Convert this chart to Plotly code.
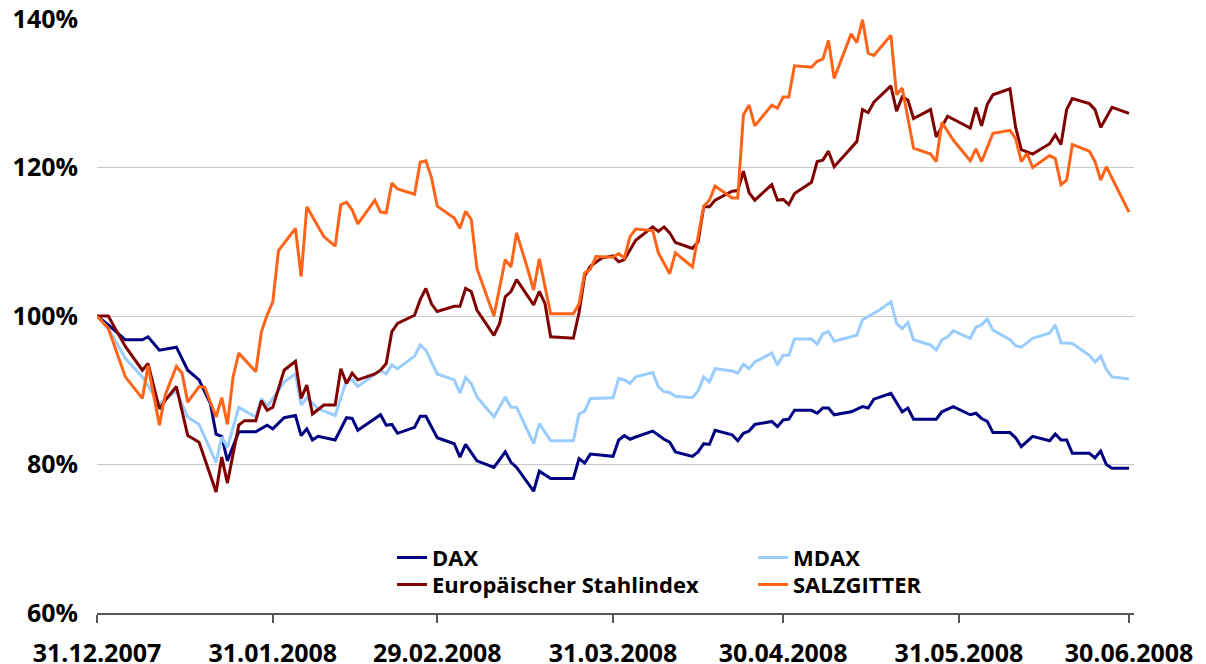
import plotly.graph_objects as go

# ---------------- data (index, 31.12.2007 = 100 %) ----------------
DAX_DATES = [
    "2007-12-31", "2008-01-02", "2008-01-05", "2008-01-08", "2008-01-09", "2008-01-11",
    "2008-01-14", "2008-01-16", "2008-01-18", "2008-01-20", "2008-01-21", "2008-01-22",
    "2008-01-23", "2008-01-25", "2008-01-28", "2008-01-30", "2008-01-31", "2008-02-02",
    "2008-02-04", "2008-02-05", "2008-02-06", "2008-02-07", "2008-02-08", "2008-02-11",
    "2008-02-13", "2008-02-14", "2008-02-15", "2008-02-19", "2008-02-20", "2008-02-21",
    "2008-02-22", "2008-02-25", "2008-02-26", "2008-02-27", "2008-02-29", "2008-03-03",
    "2008-03-04", "2008-03-05", "2008-03-07", "2008-03-10", "2008-03-12", "2008-03-13",
    "2008-03-14", "2008-03-17", "2008-03-18", "2008-03-20", "2008-03-24", "2008-03-25",
    "2008-03-26", "2008-03-27", "2008-03-31", "2008-04-01", "2008-04-02", "2008-04-03",
    "2008-04-04", "2008-04-07", "2008-04-09", "2008-04-10", "2008-04-11", "2008-04-14",
    "2008-04-15", "2008-04-16", "2008-04-17", "2008-04-18", "2008-04-21", "2008-04-22",
    "2008-04-23", "2008-04-24", "2008-04-25", "2008-04-28", "2008-04-29", "2008-04-30",
    "2008-05-01", "2008-05-02", "2008-05-05", "2008-05-06", "2008-05-07", "2008-05-08",
    "2008-05-09", "2008-05-12", "2008-05-14", "2008-05-15", "2008-05-16", "2008-05-19",
    "2008-05-21", "2008-05-22", "2008-05-23", "2008-05-27", "2008-05-28", "2008-05-30",
    "2008-06-02", "2008-06-03", "2008-06-04", "2008-06-05", "2008-06-06", "2008-06-09",
    "2008-06-10", "2008-06-11", "2008-06-13", "2008-06-16", "2008-06-17", "2008-06-18",
    "2008-06-19", "2008-06-20", "2008-06-23", "2008-06-24", "2008-06-25", "2008-06-26",
    "2008-06-27", "2008-06-30",
]
DAX_VALUES = [
    100, 98.8, 96.8, 96.8, 97.2, 95.4,
    95.8, 92.7, 91.4, 88.2, 84.1, 83.8,
    80.5, 84.4, 84.4, 85.3, 84.8, 86.3,
    86.6, 83.9, 84.8, 83.3, 83.8, 83.3,
    86.3, 86.2, 84.6, 86.7, 85.3, 85.4,
    84.2, 85.0, 86.5, 86.5, 83.6, 82.8,
    81.0, 82.7, 80.5, 79.6, 81.7, 80.3,
    79.6, 76.4, 79.1, 78.1, 78.1, 80.8,
    80.2, 81.4, 81.1, 83.3, 83.9, 83.4,
    83.7, 84.5, 83.4, 83.0, 81.7, 81.1,
    81.7, 82.8, 82.7, 84.6, 84.0, 83.2,
    84.2, 84.5, 85.4, 85.8, 85.1, 86.0,
    86.1, 87.3, 87.3, 86.9, 87.6, 87.6,
    86.7, 87.1, 87.8, 87.6, 88.8, 89.6,
    87.1, 87.6, 86.1, 86.1, 87.1, 87.8,
    86.7, 86.9, 86.2, 85.8, 84.3, 84.3,
    83.6, 82.4, 83.8, 83.2, 84.1, 83.3,
    83.3, 81.5, 81.5, 80.9, 81.8, 80.0,
    79.5, 79.5,
]

MDAX_DATES = [
    "2007-12-31", "2008-01-02", "2008-01-05", "2008-01-08", "2008-01-11", "2008-01-14",
    "2008-01-16", "2008-01-18", "2008-01-19", "2008-01-21", "2008-01-22", "2008-01-23",
    "2008-01-25", "2008-01-28", "2008-01-29", "2008-01-30", "2008-02-02", "2008-02-04",
    "2008-02-05", "2008-02-06", "2008-02-08", "2008-02-11", "2008-02-13", "2008-02-14",
    "2008-02-15", "2008-02-19", "2008-02-20", "2008-02-21", "2008-02-22", "2008-02-25",
    "2008-02-26", "2008-02-27", "2008-02-29", "2008-03-03", "2008-03-04", "2008-03-05",
    "2008-03-06", "2008-03-07", "2008-03-10", "2008-03-12", "2008-03-13", "2008-03-14",
    "2008-03-17", "2008-03-18", "2008-03-20", "2008-03-24", "2008-03-25", "2008-03-26",
    "2008-03-27", "2008-03-31", "2008-04-01", "2008-04-02", "2008-04-03", "2008-04-04",
    "2008-04-07", "2008-04-08", "2008-04-09", "2008-04-10", "2008-04-11", "2008-04-14",
    "2008-04-15", "2008-04-16", "2008-04-17", "2008-04-18", "2008-04-21", "2008-04-22",
    "2008-04-23", "2008-04-24", "2008-04-25", "2008-04-28", "2008-04-29", "2008-04-30",
    "2008-05-01", "2008-05-02", "2008-05-05", "2008-05-06", "2008-05-07", "2008-05-08",
    "2008-05-09", "2008-05-13", "2008-05-14", "2008-05-16", "2008-05-17", "2008-05-19",
    "2008-05-20", "2008-05-21", "2008-05-22", "2008-05-23", "2008-05-26", "2008-05-27",
    "2008-05-28", "2008-05-29", "2008-05-30", "2008-06-02", "2008-06-03", "2008-06-04",
    "2008-06-05", "2008-06-06", "2008-06-09", "2008-06-10", "2008-06-11", "2008-06-13",
    "2008-06-16", "2008-06-17", "2008-06-18", "2008-06-20", "2008-06-23", "2008-06-24",
    "2008-06-25", "2008-06-26", "2008-06-27", "2008-06-30",
]
MDAX_VALUES = [
    100, 98.3, 94.3, 91.8, 88.2, 89.9,
    86.4, 85.4, 83.7, 80.3, 83.7, 82.3,
    87.7, 86.4, 88.9, 87.8, 91.1, 92.2,
    88.0, 89.0, 87.5, 86.6, 91.3, 91.4,
    90.5, 92.7, 92.2, 93.4, 92.9, 94.6,
    96.1, 95.4, 92.2, 91.4, 89.6, 91.7,
    90.9, 89.1, 86.4, 89.1, 87.7, 87.7,
    82.8, 85.5, 83.2, 83.2, 86.8, 87.2,
    88.9, 89.0, 91.6, 91.4, 90.9, 91.8,
    92.4, 90.5, 89.8, 89.7, 89.2, 89.0,
    89.9, 91.8, 91.1, 92.9, 92.6, 92.3,
    93.5, 92.9, 93.8, 95.0, 93.4, 94.7,
    94.7, 96.9, 96.9, 96.2, 97.6, 97.9,
    96.6, 97.4, 99.5, 100.3, 100.8, 101.9,
    99.0, 98.3, 99.1, 96.8, 96.1, 95.4,
    96.8, 97.2, 98.0, 97.0, 98.5, 98.8,
    99.6, 98.1, 96.8, 96.0, 95.8, 97.0,
    97.7, 98.8, 96.4, 96.3, 94.7, 93.8,
    94.6, 92.8, 91.8, 91.5,
]

STAHL_DATES = [
    "2007-12-31", "2008-01-02", "2008-01-03", "2008-01-05", "2008-01-08", "2008-01-09",
    "2008-01-11", "2008-01-12", "2008-01-14", "2008-01-16", "2008-01-18", "2008-01-21",
    "2008-01-22", "2008-01-23", "2008-01-25", "2008-01-26", "2008-01-28", "2008-01-29",
    "2008-01-30", "2008-01-31", "2008-02-02", "2008-02-04", "2008-02-05", "2008-02-06",
    "2008-02-07", "2008-02-09", "2008-02-11", "2008-02-12", "2008-02-13", "2008-02-14",
    "2008-02-15", "2008-02-18", "2008-02-19", "2008-02-20", "2008-02-21", "2008-02-22",
    "2008-02-25", "2008-02-26", "2008-02-27", "2008-02-28", "2008-02-29", "2008-03-03",
    "2008-03-04", "2008-03-05", "2008-03-06", "2008-03-07", "2008-03-10", "2008-03-11",
    "2008-03-12", "2008-03-13", "2008-03-14", "2008-03-17", "2008-03-18", "2008-03-19",
    "2008-03-20", "2008-03-24", "2008-03-25", "2008-03-26", "2008-03-27", "2008-03-29",
    "2008-03-31", "2008-04-01", "2008-04-02", "2008-04-04", "2008-04-07", "2008-04-08",
    "2008-04-09", "2008-04-10", "2008-04-11", "2008-04-14", "2008-04-15", "2008-04-16",
    "2008-04-17", "2008-04-18", "2008-04-21", "2008-04-22", "2008-04-23", "2008-04-24",
    "2008-04-25", "2008-04-28", "2008-04-29", "2008-04-30", "2008-05-01", "2008-05-02",
    "2008-05-05", "2008-05-06", "2008-05-07", "2008-05-08", "2008-05-09", "2008-05-13",
    "2008-05-14", "2008-05-15", "2008-05-16", "2008-05-19", "2008-05-20", "2008-05-21",
    "2008-05-22", "2008-05-23", "2008-05-26", "2008-05-27", "2008-05-29", "2008-06-02",
    "2008-06-03", "2008-06-04", "2008-06-05", "2008-06-06", "2008-06-09", "2008-06-10",
    "2008-06-11", "2008-06-13", "2008-06-16", "2008-06-17", "2008-06-18", "2008-06-19",
    "2008-06-20", "2008-06-23", "2008-06-24", "2008-06-25", "2008-06-27", "2008-06-30",
]
STAHL_VALUES = [
    100, 100, 98.6, 95.9, 92.7, 93.6,
    87.5, 88.6, 90.5, 83.9, 83.0, 76.3,
    81.0, 77.5, 85.3, 85.9, 85.9, 88.6,
    87.3, 87.7, 92.7, 93.9, 88.9, 90.7,
    86.8, 88.0, 88.0, 92.9, 90.9, 92.3,
    91.4, 92.2, 92.7, 93.6, 97.9, 99.0,
    100.1, 102.2, 103.7, 101.6, 100.6, 101.3,
    101.3, 103.7, 103.3, 100.8, 97.4, 99.0,
    102.6, 103.3, 104.9, 101.5, 103.3, 101.7,
    97.2, 97.0, 100.4, 105.4, 106.7, 107.8,
    108.1, 107.3, 107.6, 110.2, 112.0, 111.4,
    112.0, 111.2, 109.9, 109.1, 110.0, 114.7,
    114.7, 115.6, 116.8, 116.9, 119.5, 116.6,
    115.6, 117.7, 115.6, 115.7, 115.0, 116.5,
    118.0, 120.8, 121.0, 122.2, 120.1, 123.5,
    127.8, 127.4, 128.8, 131.0, 127.6, 129.5,
    129.1, 126.6, 127.8, 124.1, 126.9, 125.3,
    128.1, 125.6, 128.5, 129.8, 130.6, 125.4,
    122.4, 121.8, 123.2, 124.4, 123.1, 127.8,
    129.3, 128.6, 127.8, 125.4, 128.1, 127.3,
]

SALZ_DATES = [
    "2007-12-31", "2008-01-02", "2008-01-05", "2008-01-08", "2008-01-09", "2008-01-11",
    "2008-01-12", "2008-01-14", "2008-01-15", "2008-01-16", "2008-01-18", "2008-01-19",
    "2008-01-21", "2008-01-22", "2008-01-23", "2008-01-24", "2008-01-25", "2008-01-28",
    "2008-01-29", "2008-01-30", "2008-01-31", "2008-02-01", "2008-02-04", "2008-02-05",
    "2008-02-06", "2008-02-08", "2008-02-09", "2008-02-11", "2008-02-12", "2008-02-13",
    "2008-02-14", "2008-02-15", "2008-02-18", "2008-02-19", "2008-02-20", "2008-02-21",
    "2008-02-22", "2008-02-25", "2008-02-26", "2008-02-27", "2008-02-28", "2008-02-29",
    "2008-03-03", "2008-03-04", "2008-03-05", "2008-03-06", "2008-03-07", "2008-03-10",
    "2008-03-12", "2008-03-13", "2008-03-14", "2008-03-16", "2008-03-17", "2008-03-18",
    "2008-03-20", "2008-03-24", "2008-03-25", "2008-03-26", "2008-03-27", "2008-03-28",
    "2008-03-31", "2008-04-01", "2008-04-02", "2008-04-03", "2008-04-04", "2008-04-07",
    "2008-04-08", "2008-04-10", "2008-04-11", "2008-04-14", "2008-04-16", "2008-04-17",
    "2008-04-18", "2008-04-21", "2008-04-22", "2008-04-23", "2008-04-24", "2008-04-25",
    "2008-04-28", "2008-04-29", "2008-04-30", "2008-05-01", "2008-05-02", "2008-05-05",
    "2008-05-06", "2008-05-07", "2008-05-08", "2008-05-09", "2008-05-12", "2008-05-13",
    "2008-05-14", "2008-05-15", "2008-05-16", "2008-05-19", "2008-05-20", "2008-05-21",
    "2008-05-23", "2008-05-26", "2008-05-27", "2008-05-28", "2008-05-30", "2008-06-02",
    "2008-06-03", "2008-06-04", "2008-06-06", "2008-06-09", "2008-06-10", "2008-06-11",
    "2008-06-12", "2008-06-13", "2008-06-16", "2008-06-17", "2008-06-18", "2008-06-19",
    "2008-06-20", "2008-06-23", "2008-06-24", "2008-06-25", "2008-06-26", "2008-06-30",
]
SALZ_VALUES = [
    100, 98.3, 91.8, 88.9, 93.3, 85.3,
    89.3, 93.2, 92.3, 88.4, 90.5, 90.4,
    86.4, 89.0, 85.4, 91.8, 95.0, 92.5,
    97.9, 100.1, 101.9, 108.8, 111.8, 105.3,
    114.7, 112.1, 110.7, 109.4, 115.0, 115.3,
    114.3, 112.4, 115.6, 114.0, 113.9, 117.9,
    117.1, 116.4, 120.7, 120.9, 118.6, 114.8,
    113.2, 111.8, 114.1, 113.0, 106.4, 100.0,
    107.6, 106.6, 111.2, 106.2, 103.5, 107.7,
    100.3, 100.3, 101.6, 105.8, 106.3, 108.0,
    107.9, 108.4, 107.8, 110.7, 111.7, 111.5,
    108.5, 105.7, 108.5, 106.6, 114.8, 115.6,
    117.5, 115.9, 115.9, 127.1, 128.4, 125.6,
    128.4, 128.0, 129.5, 129.5, 133.7, 133.5,
    134.3, 134.6, 137.1, 132.0, 138.0, 136.8,
    139.9, 135.4, 135.1, 137.8, 129.8, 130.7,
    122.6, 121.8, 120.8, 126.1, 123.7, 120.9,
    122.5, 120.8, 124.6, 125.0, 123.9, 120.8,
    121.9, 120.0, 121.6, 121.2, 117.7, 118.3,
    123.1, 122.2, 120.8, 118.3, 120.1, 114.0,
]

SERIES_NAMES = ["DAX", "MDAX", "Europäischer Stahlindex", "SALZGITTER"]

X_TICK_DATES = ["2007-12-31", "2008-01-31", "2008-02-29", "2008-03-31",
                "2008-04-30", "2008-05-31", "2008-06-30"]
X_TICK_LABELS = ["31.12.2007", "31.01.2008", "29.02.2008", "31.03.2008",
                 "30.04.2008", "31.05.2008", "30.06.2008"]
Y_TICK_VALUES = [60, 80, 100, 120, 140]
Y_TICK_LABELS = ["60%", "80%", "100%", "120%", "140%"]

# ---------------- styling ----------------
COLORS = {"DAX": "#000080", "MDAX": "#99CCFF",
          "Europäischer Stahlindex": "#800000", "SALZGITTER": "#FF6418"}
LEGEND_SLOT = {"DAX": ("legend", 0.2845, 0.093),
               "MDAX": ("legend2", 0.6326, 0.093),
               "Europäischer Stahlindex": ("legend3", 0.2845, 0.0475),
               "SALZGITTER": ("legend4", 0.6326, 0.0475)}

FONT = "Open Sans"
TICK_FONT = dict(family=FONT, size=25, color="#000000", weight="bold")
LEG_FONT = dict(family=FONT, size=22, color="#000000", weight="bold")

data = {
    "DAX": (DAX_DATES, DAX_VALUES),
    "MDAX": (MDAX_DATES, MDAX_VALUES),
    "Europäischer Stahlindex": (STAHL_DATES, STAHL_VALUES),
    "SALZGITTER": (SALZ_DATES, SALZ_VALUES),
}

fig = go.Figure()
for name in SERIES_NAMES:
    xs, ys = data[name]
    fig.add_trace(go.Scatter(
        x=xs, y=ys, name=name, mode="lines",
        line=dict(color=COLORS[name], width=3),
        legend=LEGEND_SLOT[name][0],
        hoverinfo="skip",
    ))

legend_layout = {}
for name in SERIES_NAMES:
    key, lx, ly = LEGEND_SLOT[name]
    legend_layout[key] = dict(
        x=lx, y=ly, xanchor="left", yanchor="middle",
        orientation="v", bgcolor="rgba(0,0,0,0)", borderwidth=0,
        font=LEG_FONT, itemwidth=30,
    )

# the page body adds an 8 px offset, so the figure is 16 px smaller than the window
fig.update_layout(
    width=1198, height=656,
    margin=dict(l=89, r=72, t=11, b=51, pad=0, autoexpand=False),
    paper_bgcolor="#ffffff", plot_bgcolor="#ffffff",
    showlegend=True,
    **legend_layout,
)

fig.update_xaxes(
    type="date", automargin=False,
    range=["2007-12-31", "2008-06-30 21:00"],
    tickmode="array", tickvals=X_TICK_DATES, ticktext=X_TICK_LABELS,
    ticks="outside", ticklen=8, tickwidth=1.5, tickcolor="#595959",
    showline=True, linecolor="#595959", linewidth=1.5,
    showgrid=False, zeroline=False,
    tickfont=TICK_FONT, ticklabelstandoff=9, ticklabeloverflow="allow",
)
fig.update_yaxes(
    range=[60, 140], automargin=False,
    tickmode="array", tickvals=Y_TICK_VALUES, ticktext=Y_TICK_LABELS,
    ticks="", showline=False,
    showgrid=True, gridcolor="#c8c8c8", gridwidth=1.3,
    zeroline=False,
    tickfont=TICK_FONT, ticklabelstandoff=18, ticklabeloverflow="allow",
)

fig.write_html("out.html")
